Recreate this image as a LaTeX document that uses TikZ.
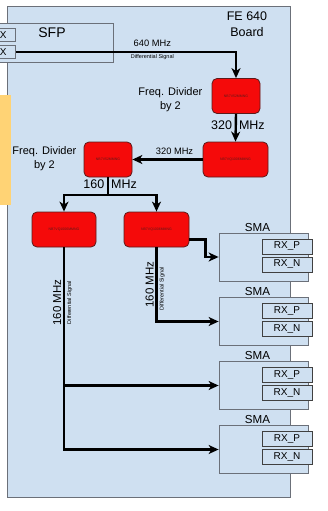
\documentclass[tikz,border=0pt]{standalone}
\usepackage{fontspec}
\setmainfont{Liberation Sans}
\usetikzlibrary{arrows.meta, positioning, calc}
\definecolor{boardBlue}{HTML}{CFE0F1}
\definecolor{edgeGray}{HTML}{6B7079}
\definecolor{chipRed}{HTML}{F50A0A}
\definecolor{chipEdge}{HTML}{5C1A1A}
\definecolor{tabYellow}{HTML}{FFD375}
\tikzset{
    chipBox/.style={rectangle, rounded corners=5pt, draw=chipEdge, fill=chipRed, thick, inner sep=0pt, minimum height=35pt, font=\fontsize{3.5}{4}\selectfont, text=chipEdge},
    smaBox/.style={rectangle, draw=edgeGray, fill=boardBlue, thick, minimum width=89pt, minimum height=48pt, inner sep=0pt},
    rxPort/.style={rectangle, draw=black!75, fill=boardBlue, thick, minimum width=50pt, minimum height=15pt, inner sep=0pt, font=\fontsize{10}{10}\selectfont},
    sfpPort/.style={rectangle, draw=edgeGray, fill=boardBlue, thick, minimum width=17pt, minimum height=12pt, text width=14pt, align=left, inner xsep=1pt, anchor=west, font=\fontsize{10}{10}\selectfont},
    smaTitle/.style={font=\fontsize{11.6}{12}\selectfont, inner sep=1pt},
    divLbl/.style={font=\fontsize{11}{14}\selectfont, align=center, inner sep=0pt},
    bigFreq/.style={font=\fontsize{12.5}{13}\selectfont, inner sep=2pt},
    smallFreq/.style={font=\fontsize{9.3}{10}\selectfont},
    diffLbl/.style={font=\fontsize{5.5}{6}\selectfont},
    sigLine/.style={line width=2.4pt},
    sigArrow/.style={sigLine, -{Stealth[length=10pt, width=9pt, inset=3pt]}}
}

\begin{document}
\begin{tikzpicture}[x=1pt, y=-1pt]
    \useasboundingbox (0,0) rectangle (327,511);
    \clip (0,0) rectangle (327,511);
    % board
    \draw[edgeGray, fill=boardBlue, thick] (7,6) rectangle (290,497);
    \node[font=\fontsize{12.5}{16}\selectfont, align=center] (boardLbl) at (247,24) {FE 640\\Board};
    % sfp module, cut at the left edge
    \node[draw=edgeGray, fill=boardBlue, thick, minimum width=120pt, minimum height=39pt, anchor=north west] (sfp) at (-7,23) {};
    \node[font=\fontsize{14}{14}\selectfont] (sfpLbl) at (52,33) {SFP};
    \node[sfpPort] (sfpTop) at (-2,35) {X};
    \node[sfpPort] (sfpBot) at (-2,52) {X};
    \fill[tabYellow] (-1,95) rectangle (11,205);

    % chips
    \node[chipBox, minimum width=48pt] (div1) at (236,96) {NB7V52MMNG};
    \node[chipBox, minimum width=65pt] (buf0) at (235.5,159.5) {NB7VQ1006MMNG};
    \node[chipBox, minimum width=48pt] (div2) at (108,159.5) {NB7V52MMNG};
    \node[chipBox, minimum width=64pt] (buf1) at (64,229.5) {NB7VQ1006MMNG};
    \node[chipBox, minimum width=65pt] (buf2) at (156.5,229.5) {NB7VQ1006MMNG};
    \node[divLbl, left=9pt of div1, yshift=-4pt] (div1Lbl) {Freq. Divider\\by 2};
    \node[divLbl, left=7pt of div2, yshift=1pt] (div2Lbl) {Freq. Divider\\by 2};

    % sma connectors
    \foreach \i/\yc in {1/257, 2/321.5, 3/385.5, 4/449.5} {
        \node[smaBox] (sma\i) at (263.5,\yc) {};
        \node[smaTitle, above=0pt of sma\i.north, xshift=-6pt] (smaLbl\i) {SMA};
        \node[rxPort] (rxP\i) at (287,\yc-10.5) {RX\_P};
        \node[rxPort] (rxN\i) at (287,\yc+7.5) {RX\_N};
    }

    \coordinate (split) at (108,195);
    \draw[sigArrow] (sfpBot.east) -| (div1.north)
        node[pos=0.31, above=1pt, smallFreq] {640 MHz}
        node[pos=0.31, below=0pt, diffLbl, inner sep=1pt] {Differential Signal};
    \draw[sigArrow] (div1.south) -- (buf0.north)
        node[pos=0.4, left=0.5pt, bigFreq] {320}
        node[pos=0.4, right=0pt, bigFreq] {MHz};
    \draw[sigArrow] (buf0.west) -- (div2.east)
        node[pos=0.4, above=0pt, smallFreq] {320 MHz};
    \draw[sigLine] (div2.south) -- (split)
        node[pos=0.4, left=0.5pt, bigFreq] {160}
        node[pos=0.4, right=0pt, bigFreq] {MHz};
    \draw[sigArrow] (split) -| (buf1.north);
    \draw[sigArrow] (split) -| (buf2.north);
    \draw[sigArrow] ([yshift=-10pt]buf2.east) -- ++(16,0) |- (sma1.west);
    \draw[sigArrow] (buf2.south) |- (sma2.west)
        node[pos=0.25, rotate=90, anchor=south, inner sep=1.5pt, font=\fontsize{11.5}{12}\selectfont] {160 MHz}
        node[pos=0.28, rotate=90, anchor=north, inner sep=2pt, diffLbl] {Differential Signal};
    \draw[sigArrow] (buf1.south) |- (sma3.west)
        node[pos=0.2, rotate=90, anchor=south, inner sep=1.5pt, font=\fontsize{11.5}{12}\selectfont] {160 MHz}
        node[pos=0.2, rotate=90, anchor=north, inner sep=2pt, diffLbl] {Differential Signal};
    \draw[sigArrow] (buf1.south) |- (sma4.west);
\end{tikzpicture}
\end{document}
